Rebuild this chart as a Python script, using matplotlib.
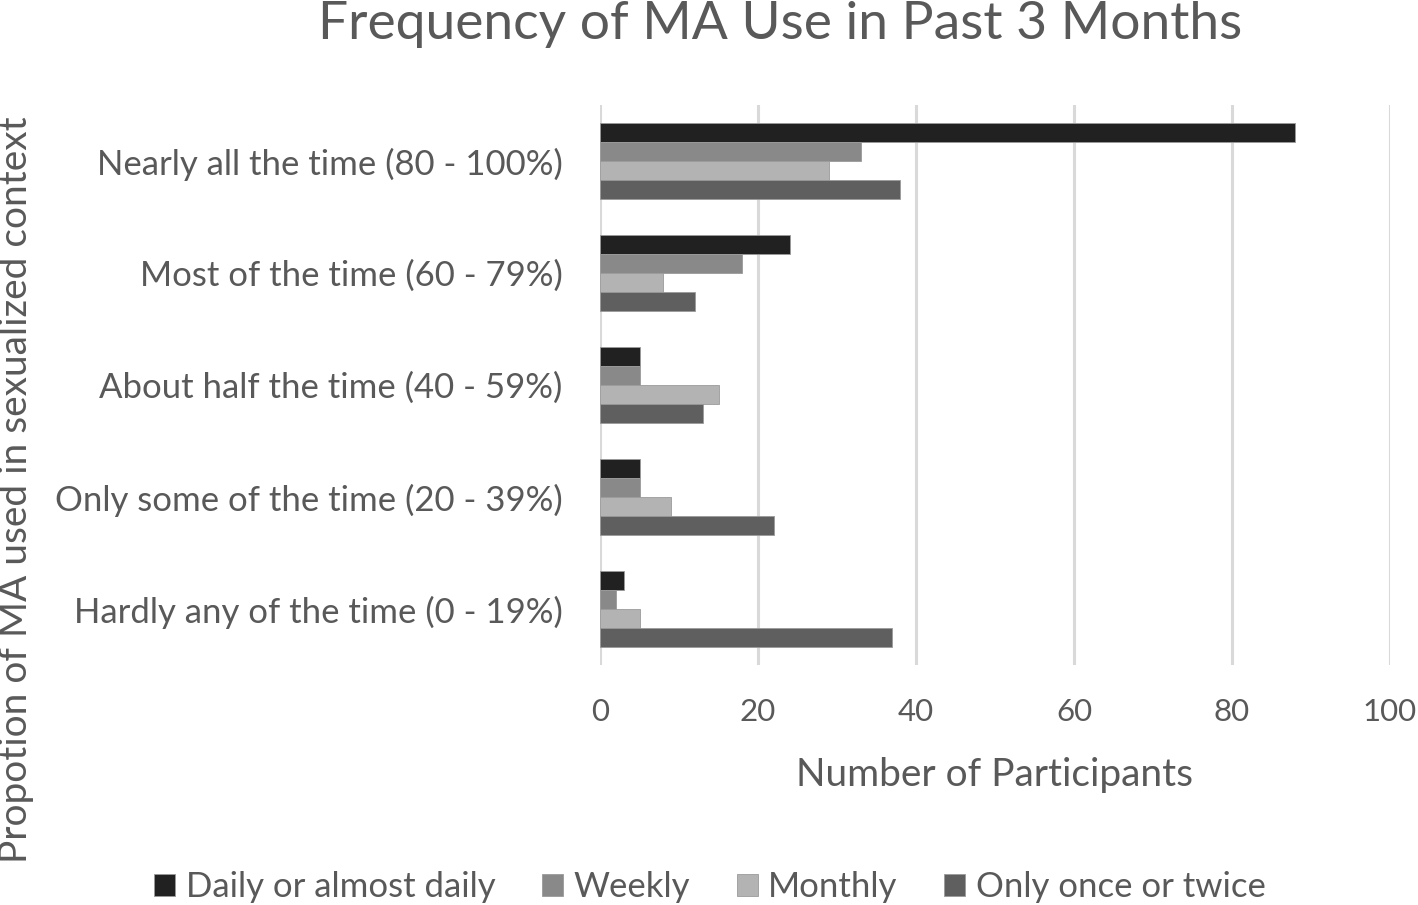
import matplotlib
matplotlib.use("Agg")
import matplotlib.pyplot as plt
import numpy as np

categories = ["Nearly all the time (80 - 100%)", "Most of the time (60 - 79%)",
              "About half the time (40 - 59%)", "Only some of the time (20 - 39%)",
              "Hardly any of the time (0 - 19%)"]
series_names = ["Daily or almost daily", "Weekly", "Monthly", "Only once or twice"]
daily = [88, 24, 5, 5, 3]
weekly = [33, 18, 5, 5, 2]
monthly = [29, 8, 15, 9, 5]
once = [38, 12, 13, 22, 37]
colors = ["#212121", "#898989", "#b3b3b3", "#5f5f5f"]
xticks = [0, 20, 40, 60, 80, 100]

plt.rcParams['font.family'] = ['Lato', 'DejaVu Sans']
txt = "#595959"

fig = plt.figure(figsize=(14.18, 9.05), dpi=100)
ax = fig.add_axes([600/1418, 1 - 665/905, 790/1418, 560/905])

n = len(categories)
y = np.arange(n)
h = 0.17
data = [daily, weekly, monthly, once]
for i, (vals, c, name) in enumerate(zip(data, colors, series_names)):
    pos = y - 1.5*h + i*h
    ax.barh(pos, vals, height=h, color=c, label=name, edgecolor="#9a9a9a", linewidth=0.6, zorder=3)

ax.set_ylim(n - 0.5, -0.5)
ax.set_xlim(0, 100)
ax.set_xticks(xticks)
ax.set_yticks(y)
ax.set_yticklabels(categories)
ax.tick_params(axis='y', length=0, labelsize=25, colors=txt, pad=27)
ax.tick_params(axis='x', length=0, labelsize=22.5, colors=txt, pad=24)
ax.grid(axis='x', color="#d9d9d9", linewidth=2.2, zorder=0)
for s in ax.spines.values():
    s.set_visible(False)

ax.set_xlabel("Number of Participants", fontsize=28, color=txt, labelpad=22)
fig.text(780/1418, 1 - 25/905, "Frequency of MA Use in Past 3 Months", fontsize=38.4,
         color=txt, ha='center', va='center')
fig.text(16/1418, 1 - 490/905, "Propotion of MA used in sexualized context", fontsize=28,
         color=txt, rotation=90, ha='center', va='center')

leg = fig.legend(loc='center', bbox_to_anchor=(710/1418, 1 - 887/905), ncol=4, frameon=False,
                 fontsize=25, handlelength=0.6, handleheight=0.6, handletextpad=0.3,
                 columnspacing=1.35, labelcolor=txt)

fig.savefig("out.png", dpi=100)
